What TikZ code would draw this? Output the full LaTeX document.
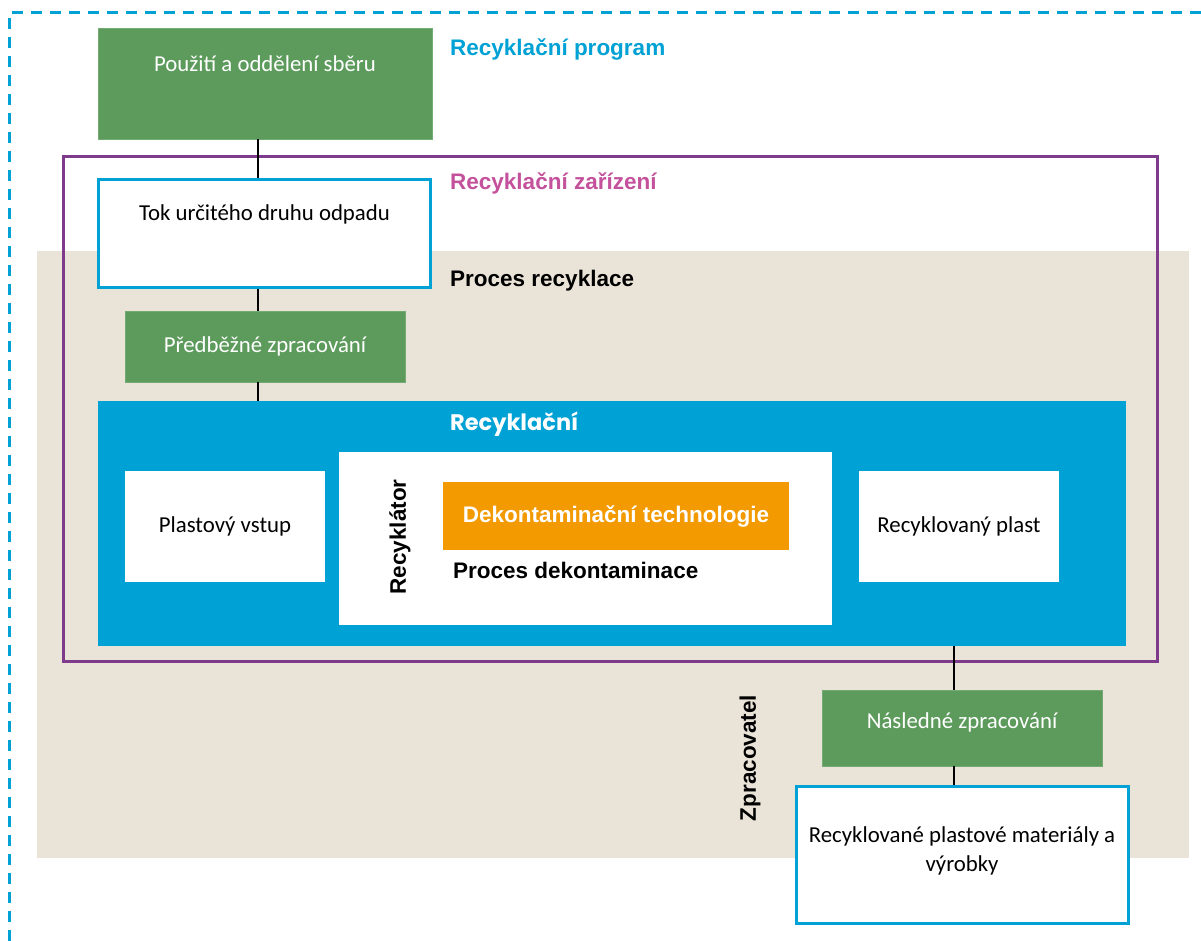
\documentclass[tikz,border=0pt]{standalone}
\usepackage{fontspec}
\setmainfont{Carlito}
\newfontfamily\arialfont{Liberation Sans}
\newfontfamily\gothicfont{Poppins}
\usetikzlibrary{positioning}

\definecolor{procgreen}{RGB}{92,155,92}
\definecolor{procblue}{RGB}{0,161,212}
\definecolor{procorange}{RGB}{242,154,0}
\definecolor{procpurple}{RGB}{126,59,140}
\definecolor{procpink}{RGB}{196,81,155}
\definecolor{procbeige}{RGB}{234,227,216}

\tikzset{
  boxtext/.style={font=\fontsize{22.8}{29}\selectfont},
  boldtext/.style={font=\arialfont\bfseries\fontsize{22.5}{27}\selectfont},
  greenbox/.style={rectangle, fill=procgreen, draw=procgreen!85!white, text=white, boxtext},
  flowbox/.style={rectangle, fill=white, draw=procblue, line width=3pt, boxtext},
  plainbox/.style={rectangle, fill=white, boxtext},
  headlabel/.style={anchor=west, inner sep=0pt, boldtext},
  wire/.style={black, line width=1.5pt}
}

\begin{document}
\begin{tikzpicture}[x=1pt,y=-1pt]
\useasboundingbox (0,0) rectangle (1201,941);

% dashed outline of the whole programme
\draw[procblue, line width=3pt, dash pattern=on 11pt off 8pt] (9,941) -- (9,13) -- (1201,13);

\fill[procbeige] (37,251) rectangle (1189,858);
\draw[procpurple, line width=3pt] (63,157) rectangle (1157,661);

\node[greenbox, minimum width=334, minimum height=111] (use) at (265,83.5) {};
\node[boxtext, text=white] at (use.north |- 0,64) {Použití a oddělení sběru};

\node[flowbox, minimum width=332, minimum height=108] (stream) at (264.5,233.5) {};
\node[boxtext] at (stream.north |- 0,214) {Tok určitého druhu odpadu};

\node[greenbox, minimum width=280, minimum height=71] (pre) at (265,346.5) {Předběžné zpracování};

\node[rectangle, fill=procblue, minimum width=1028, minimum height=245] (recycler) at (612,523.5) {};
\node[text=white, font=\gothicfont\bfseries\fontsize{22.5}{27}\selectfont, anchor=west, inner sep=0pt] at (450,424) {Recyklační};

\node[plainbox, minimum width=200, minimum height=111] (input) at (225,526.5) {Plastový vstup};
\node[plainbox, minimum width=493, minimum height=173] (core) at (585.5,538.5) {};
\node[plainbox, minimum width=200, minimum height=111] (output) at (959,526.5) {Recyklovaný plast};

\node[rectangle, fill=procorange, minimum width=346, minimum height=68, text=white, boldtext] (tech) at (616,516) {Dekontaminační technologie};
\node[headlabel] at (453,570) {Proces dekontaminace};
\node[boldtext, rotate=90] at (400,537) {Recyklátor};

\node[greenbox, minimum width=280, minimum height=76] (post) at (962,728) {};
\node[boxtext, text=white] at (post.north |- 0,722) {Následné zpracování};

\node[flowbox, minimum width=332, minimum height=137] (product) at (962,854.5) {};
\node[boxtext, align=center] at (product.north |- 0,851) {Recyklované plastové materiály a\\výrobky};

\node[boldtext, rotate=90] at (750,758) {Zpracovatel};

\node[headlabel, text=procblue] at (450,49) {Recyklační program};
\node[headlabel, text=procpink] at (450,183) {Recyklační zařízení};
\node[headlabel] at (450,281) {Proces recyklace};

\coordinate (leftwire) at (258,0);
\coordinate (rightwire) at (954,0);
\draw[wire] (use.south -| leftwire) -- (stream.north -| leftwire);
\draw[wire] (stream.south -| leftwire) -- (pre.north -| leftwire);
\draw[wire] (pre.south -| leftwire) -- (recycler.north -| leftwire);
\draw[wire] (recycler.south -| rightwire) -- (post.north -| rightwire);
\draw[wire] (post.south -| rightwire) -- (product.north -| rightwire);

\end{tikzpicture}
\end{document}
